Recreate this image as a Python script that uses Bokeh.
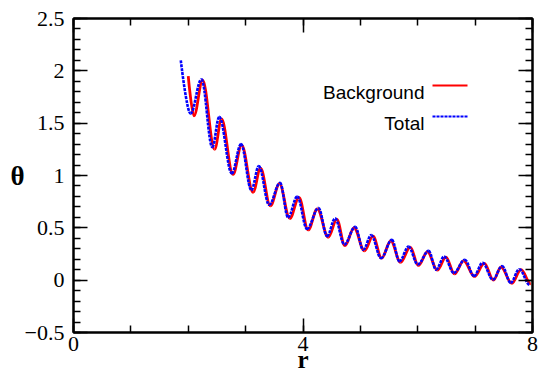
import numpy as np
from bokeh.plotting import figure
from bokeh.models import FixedTicker, LinearAxis, Range1d, Label, Arrow
from bokeh.embed import file_html
from bokeh.resources import INLINE

# Extrema (start point, then alternating trough / peak)
bg_r = [2.00, 2.10, 2.25, 2.46, 2.58, 2.78, 2.93, 3.13, 3.26, 3.43, 3.59, 3.77, 3.93,
        4.09, 4.25, 4.44, 4.59, 4.73, 4.89, 5.07, 5.22, 5.37, 5.53, 5.70, 5.87, 6.01,
        6.17, 6.34, 6.49, 6.64, 6.80, 6.99, 7.16, 7.32, 7.45, 7.64, 7.80, 7.97]
bg_theta = [1.95, 1.57, 1.91, 1.25, 1.54, 1.01, 1.29, 0.84, 1.07, 0.71, 0.92, 0.59, 0.79,
            0.48, 0.68, 0.41, 0.58, 0.33, 0.50, 0.28, 0.42, 0.21, 0.375, 0.17, 0.315, 0.14,
            0.27, 0.095, 0.22, 0.06, 0.185, 0.035, 0.16, 0.0, 0.125, -0.03, 0.10, -0.035]

tot_r = [1.87, 2.04, 2.23, 2.42, 2.54, 2.76, 2.92, 3.10, 3.23, 3.41, 3.60, 3.74, 3.90,
         4.07, 4.27, 4.42, 4.56, 4.72, 4.91, 5.05, 5.19, 5.36, 5.55, 5.68, 5.84, 6.00,
         6.19, 6.32, 6.46, 6.63, 6.82, 6.98, 7.13, 7.31, 7.47, 7.62, 7.77, 7.95]
tot_theta = [2.10, 1.59, 1.92, 1.27, 1.56, 1.02, 1.30, 0.86, 1.09, 0.72, 0.93, 0.60, 0.80,
             0.49, 0.69, 0.42, 0.59, 0.34, 0.51, 0.29, 0.43, 0.21, 0.385, 0.18, 0.32, 0.15,
             0.28, 0.10, 0.225, 0.07, 0.195, 0.04, 0.165, 0.005, 0.135, -0.025, 0.105, -0.045]

x_major = [0, 4, 8]
x_minor = [0, 1, 2, 3, 4, 5, 6, 7, 8]
y_major = [-0.5, 0, 0.5, 1, 1.5, 2, 2.5]
y_minor = [round(-0.5 + 0.1 * i, 2) for i in range(31)]

series_names = ["Background", "Total"]
series_colors = ["#ff0000", "#0000ff"]

p = figure(width=539, height=375, x_range=Range1d(0, 8), y_range=Range1d(-0.5, 2.5),
           output_backend="svg", toolbar_location=None,
           min_border_left=73, min_border_right=7, min_border_top=18, min_border_bottom=42)
p.grid.visible = False
p.outline_line_color = "black"
p.outline_line_width = 2
p.background_fill_color = "white"
p.border_fill_color = "white"


def style_axis(ax, ticks, minor, show_labels):
    ax.ticker = FixedTicker(ticks=ticks, minor_ticks=minor)
    ax.axis_line_width = 2
    ax.axis_line_color = "black"
    ax.major_tick_in = 14
    ax.major_tick_out = 0
    ax.minor_tick_in = 7
    ax.minor_tick_out = 0
    ax.major_tick_line_width = 1.5
    ax.minor_tick_line_width = 1.5
    ax.major_tick_line_color = "black"
    ax.minor_tick_line_color = "black"
    if show_labels:
        ax.major_label_text_font = "Liberation Serif"
        ax.major_label_text_font_size = "22px"
        ax.major_label_text_color = "black"
    else:
        ax.major_label_overrides = {t: "" for t in ticks}
        ax.major_label_standoff = 0


xa = p.xaxis[0]
ya = p.yaxis[0]
style_axis(xa, x_major, x_minor, True)
style_axis(ya, y_major, y_minor, True)
xa.major_label_standoff = 4
ya.major_label_standoff = 9

xa.axis_label = "r"
xa.axis_label_text_font = "Liberation Serif"
xa.axis_label_text_font_size = "25px"
xa.axis_label_text_font_style = "bold"
xa.axis_label_text_color = "black"
xa.axis_label_standoff = -8

ya.axis_label = "θ"
ya.axis_label_text_font = "Liberation Serif"
ya.axis_label_text_font_size = "27px"
ya.axis_label_text_font_style = "bold"
ya.axis_label_text_color = "black"
ya.axis_label_standoff = -3
if hasattr(ya, "axis_label_orientation"):
    ya.axis_label_orientation = "horizontal"

top = LinearAxis()
style_axis(top, x_major, x_minor, False)
p.add_layout(top, "above")
right = LinearAxis()
style_axis(right, y_major, y_minor, False)
p.add_layout(right, "right")

A = 0.3634  # handle length giving a half-sine shape between extrema


def bezier_parts(xs, ys):
    xs = np.asarray(xs, float)
    ys = np.asarray(ys, float)
    x0, y0, x1, y1 = xs[:-1], ys[:-1], xs[1:], ys[1:]
    dx = x1 - x0
    cx0 = x0 + A * dx
    cy0 = y0.copy()
    cx0[0] = x0[0]  # first point is not an extremum
    cx1 = x1 - A * dx
    cy1 = y1
    return dict(x0=x0, y0=y0, x1=x1, y1=y1, cx0=cx0, cy0=cy0, cx1=cx1, cy1=cy1)


p.bezier(**bezier_parts(bg_r, bg_theta), line_color=series_colors[0], line_width=2.8)
p.bezier(**bezier_parts(tot_r, tot_theta), line_color=series_colors[1], line_width=2.6,
         line_dash="3 1")

# legend: text on the left, sample line on the right (frame-relative screen units)
p.add_layout(Label(x=351, y=240, x_units="screen", y_units="screen", text=series_names[0],
                   text_align="right", text_baseline="alphabetic",
                   text_font="Liberation Sans", text_font_size="19px", text_color="black"))
p.add_layout(Label(x=351, y=209, x_units="screen", y_units="screen", text=series_names[1],
                   text_align="right", text_baseline="alphabetic",
                   text_font="Liberation Sans", text_font_size="19px", text_color="black"))
p.add_layout(Arrow(x_start=359, y_start=247, x_end=394, y_end=247,
                   start_units="screen", end_units="screen", end=None,
                   line_color=series_colors[0], line_width=2))
p.add_layout(Arrow(x_start=359, y_start=216, x_end=394, y_end=216,
                   start_units="screen", end_units="screen", end=None,
                   line_color=series_colors[1], line_width=2, line_dash="3 1"))

open("out.html", "w").write(file_html(p, INLINE))
